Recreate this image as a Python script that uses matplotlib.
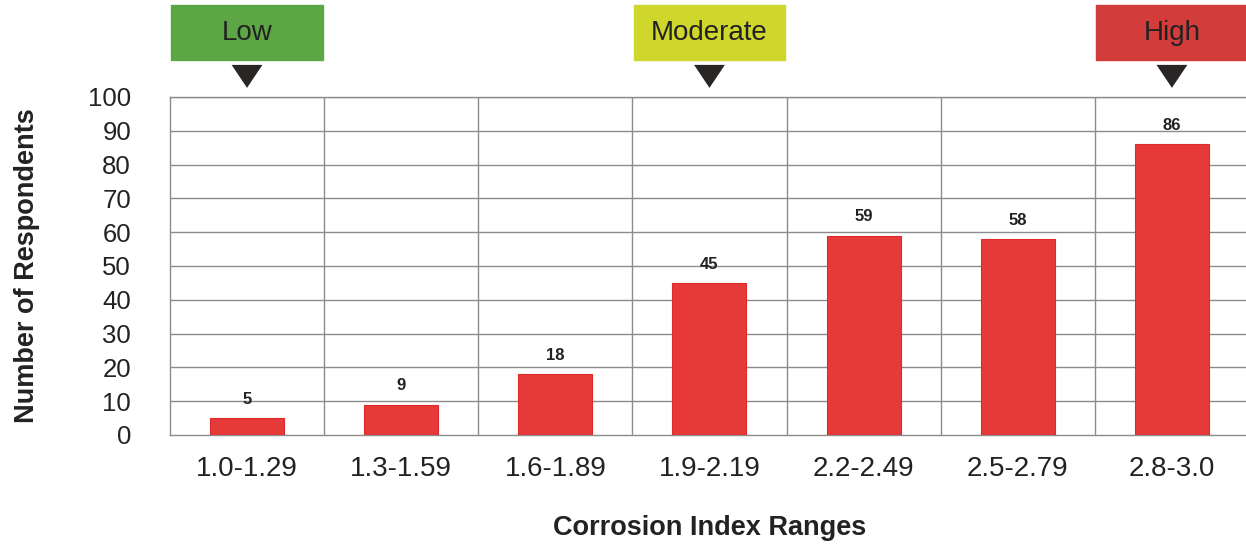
import matplotlib
matplotlib.use("Agg")
import matplotlib.pyplot as plt
from matplotlib.patches import Rectangle, Polygon
import matplotlib.transforms as mtransforms

# Survey counts per corrosion index range
ranges = ["1.0-1.29", "1.3-1.59", "1.6-1.89", "1.9-2.19", "2.2-2.49", "2.5-2.79", "2.8-3.0"]
respondents = [5, 9, 18, 45, 59, 58, 86]

# Severity markers placed above chosen ranges
levels = ["Low", "Moderate", "High"]
level_pos = [0, 3, 6]
level_colors = ["#5da646", "#cfd62c", "#d23c3b"]

plt.rcParams["font.family"] = ["Liberation Sans", "DejaVu Sans"]

fig = plt.figure(figsize=(12.46, 5.44), dpi=100)
ax = fig.add_axes([0.1364, 0.2004, 0.866, 0.6213])

x = list(range(len(ranges)))
bars = ax.bar(x, respondents, width=0.48, color="#e63a3a", edgecolor="#e02a2a", linewidth=0.8, zorder=3)

for xi, v in zip(x, respondents):
    ax.annotate(str(v), (xi, v), xytext=(0, 8), textcoords="offset points",
                ha="center", va="bottom", fontsize=12, fontweight="bold", color="#222222")

ax.set_xlim(-0.5, len(ranges) - 0.5)
ax.set_ylim(0, 100)
ax.set_yticks(range(0, 101, 10))
ax.set_xticks(x)
ax.set_xticklabels(ranges, fontsize=20, color="#222222")
ax.tick_params(axis="y", labelsize=18.5, labelcolor="#222222", length=0, pad=28)
ax.tick_params(axis="x", length=0, pad=15)

# grid: horizontal every 10, vertical on range boundaries
for yv in range(10, 101, 10):
    ax.axhline(yv, color="#8c8c8c", linewidth=1.0, zorder=1)
for b in range(1, len(ranges)):
    ax.axvline(b - 0.5, color="#8c8c8c", linewidth=1.0, zorder=1)
for s in ax.spines.values():
    s.set_color("#8c8c8c")
    s.set_linewidth(1.0)
ax.spines["right"].set_visible(False)

ax.set_ylabel("Number of Respondents", fontsize=19.5, fontweight="bold", color="#222222")
ax.set_xlabel("Corrosion Index Ranges", fontsize=19.5, fontweight="bold", color="#222222", labelpad=24)
ax.yaxis.set_label_coords(-0.12, 0.5)

trans = mtransforms.blended_transform_factory(ax.transData, ax.transAxes)
for name, pos, col in zip(levels, level_pos, level_colors):
    box = Rectangle((pos - 0.49, 1.109), 0.98, 0.163, transform=trans, clip_on=False,
                    facecolor=col, edgecolor=col, linewidth=1.0)
    ax.add_patch(box)
    ax.text(pos, 1.19, name, transform=trans, ha="center", va="center",
            fontsize=20, color="#222222")
    tri = Polygon([(pos - 0.1, 1.095), (pos + 0.1, 1.095), (pos, 1.027)], closed=True,
                  transform=trans, clip_on=False, facecolor="#2b2626", edgecolor="none")
    ax.add_patch(tri)

fig.savefig("out.png", dpi=100)
